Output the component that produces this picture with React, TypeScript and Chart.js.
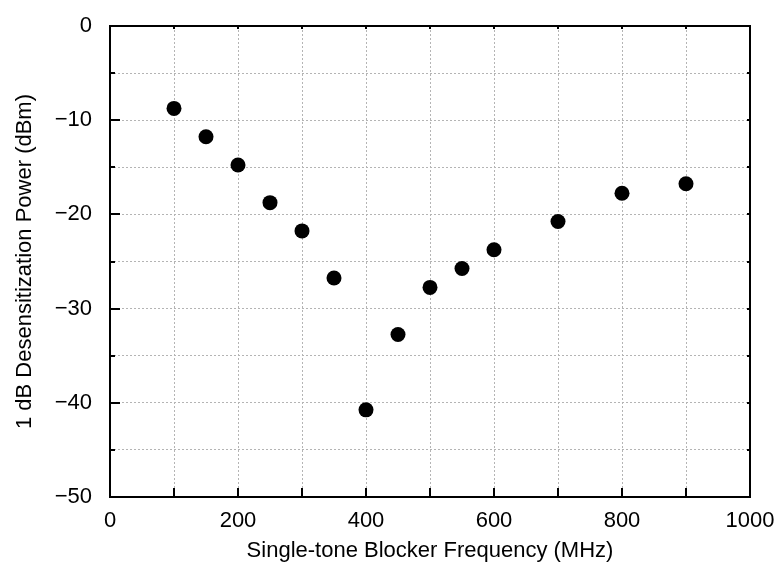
import React, { useEffect, useRef } from "react";
import { Chart, registerables } from "chart.js";

Chart.register(...registerables);

const frequencies = [100, 150, 200, 250, 300, 350, 400, 450, 500, 550, 600, 700, 800, 900];
const desensPower = [-8.75, -11.75, -14.75, -18.75, -21.75, -26.75, -40.75, -32.75, -27.75, -25.75, -23.75, -20.75, -17.75, -16.75];
const xTickValues = [0, 200, 400, 600, 800, 1000];
const yTickValues = [0, -10, -20, -30, -40, -50];
const xTitle = "Single-tone Blocker Frequency (MHz)";
const yTitle = "1 dB Desensitization Power (dBm)";

const FONT = "'Liberation Sans', Arial, sans-serif";

const framePlugin = {
  id: "frameTicks",
  afterDraw(chart: any) {
    const { ctx, chartArea } = chart;
    const xs = chart.scales.x;
    const ys = chart.scales.y;
    const { left, right, top, bottom } = chartArea;
    ctx.save();
    ctx.strokeStyle = "#000";
    ctx.lineWidth = 2;
    ctx.setLineDash([]);
    ctx.beginPath();
    for (let v = 100; v < 1000; v += 100) {
      const px = Math.round(xs.getPixelForValue(v));
      ctx.moveTo(px, bottom);
      ctx.lineTo(px, bottom - 9);
      ctx.moveTo(px, top);
      ctx.lineTo(px, top + 3);
    }
    for (let v = -45; v < 0; v += 5) {
      const py = Math.round(ys.getPixelForValue(v));
      const len = v % 10 === 0 ? 10 : 5;
      ctx.moveTo(left, py);
      ctx.lineTo(left + len, py);
      ctx.moveTo(right, py);
      ctx.lineTo(right - 3, py);
    }
    ctx.stroke();
    ctx.beginPath();
    ctx.rect(left, top, right - left, bottom - top);
    ctx.stroke();
    ctx.restore();
  },
};

export default function App() {
  const ref = useRef<HTMLCanvasElement | null>(null);
  useEffect(() => {
    if (!ref.current) return;
    const chart = new Chart(ref.current, {
      type: "scatter",
      data: {
        datasets: [
          {
            data: frequencies.map((f, i) => ({ x: f, y: desensPower[i] })),
            backgroundColor: "#000",
            borderColor: "#000",
            pointRadius: 7.5,
            pointBorderWidth: 0,
          },
        ],
      },
      options: {
        animation: false,
        responsive: false,
        devicePixelRatio: 1,
        layout: { padding: { left: 0, top: 26, right: 28, bottom: 0 } },
        plugins: { legend: { display: false }, tooltip: { enabled: false } },
        scales: {
          x: {
            type: "linear",
            min: 0,
            max: 1000,
            afterFit: (s: any) => {
              s.height = 70;
              s.paddingLeft = 0;
              s.paddingRight = 0;
            },
            ticks: {
              stepSize: 100,
              autoSkip: false,
              maxRotation: 0,
              padding: 11,
              color: "#000",
              font: { family: FONT, size: 22 },
              callback: (v: any) => (xTickValues.includes(Number(v)) ? String(v) : ""),
            },
            grid: { color: "#b4b4b4", lineWidth: 1, drawTicks: false },
            border: { display: false, dash: [2, 2] },
            title: {
              display: true,
              text: xTitle,
              color: "#000",
              font: { family: FONT, size: 22 },
              padding: { top: 0, bottom: 3 },
            },
          },
          y: {
            type: "linear",
            min: -50,
            max: 0,
            afterFit: (s: any) => {
              s.width = 110;
              s.paddingTop = 0;
              s.paddingBottom = 0;
            },
            ticks: {
              stepSize: 5,
              autoSkip: false,
              padding: 18,
              color: "#000",
              font: { family: FONT, size: 22 },
              callback: (v: any) => {
                const n = Number(v);
                if (!yTickValues.includes(n)) return "";
                return n < 0 ? "\u2212" + Math.abs(n) : String(n);
              },
            },
            grid: { color: "#b4b4b4", lineWidth: 1, drawTicks: false },
            border: { display: false, dash: [2, 2] },
            title: {
              display: true,
              text: yTitle,
              color: "#000",
              font: { family: FONT, size: 22 },
              padding: { top: 12, bottom: 0 },
            },
          },
        },
      },
      plugins: [framePlugin],
    });
    return () => chart.destroy();
  }, []);
  return (
    <div style={{ position: "fixed", left: 0, top: 0, width: 778, height: 567, background: "#fff" }}>
      <canvas ref={ref} width={778} height={567} />
    </div>
  );
}
